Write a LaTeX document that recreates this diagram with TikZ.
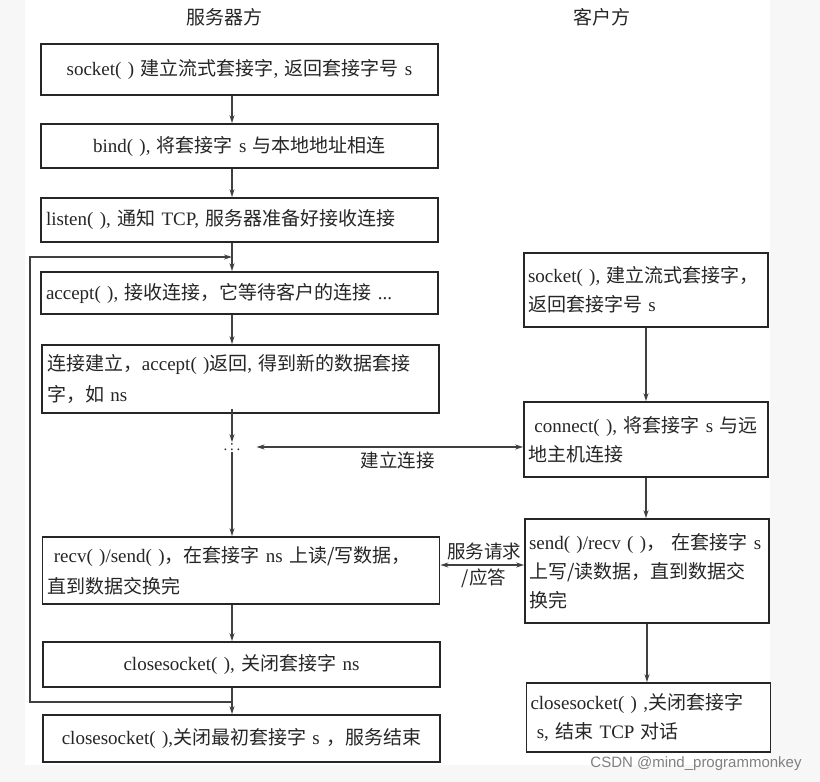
\documentclass[tikz,border=0pt]{standalone}
\usepackage{fontspec}
\setmainfont{Liberation Serif}
\newfontfamily\cjk{Noto Sans CJK SC}
\newfontfamily\wmfont{Liberation Sans}
\newcommand{\zh}[1]{{\cjk #1}}
\usetikzlibrary{arrows.meta}
\definecolor{ink}{HTML}{262626}
\definecolor{wire}{HTML}{404040}

\begin{document}
\begin{tikzpicture}[x=1pt,y=-1pt,
  srvbox/.style={draw=ink,line width=1.8pt,text=ink,inner xsep=5pt,inner ysep=0pt,
    text width=387pt,font=\fontsize{19}{31}\selectfont},
  clibox/.style={draw=ink,line width=1.8pt,text=ink,inner xsep=4pt,inner ysep=0pt,
    text width=236pt,align=left,font=\fontsize{19}{29}\selectfont},
  conn/.style={draw=wire,line width=1.3pt,-{Stealth[length=8pt,width=5pt]}},
  both/.style={draw=wire,line width=1.3pt,{Stealth[length=8pt,width=5pt]}-{Stealth[length=8pt,width=5pt]}},
  lbl/.style={text=ink,font=\fontsize{18.5}{26}\selectfont\cjk,align=center}]
\useasboundingbox (0,0) rectangle (820,782);
\fill[black!3] (0,0) rectangle (820,782);
\fill[white] (25,0) rectangle (770,765);

% titles
\node[lbl,font=\fontsize{19}{20}\selectfont\cjk] (tsrv) at (224,17) {服务器方};
\node[lbl,font=\fontsize{19}{20}\selectfont\cjk] (tcli) at (602,17) {客户方};

% server side
\node[srvbox,align=center,minimum height=51pt] (b1) at (239.5,69.5) {socket( ) \zh{建立流式套接字}, \zh{返回套接字号} s};
\node[srvbox,align=center,minimum height=44pt] (b2) at (239.5,146) {bind( ), \zh{将套接字} s \zh{与本地地址相连}};
\node[srvbox,align=left,minimum height=44pt] (b3) at (239.5,220) {listen( ), \zh{通知} TCP, \zh{服务器准备好接收连接}};
\node[srvbox,align=left,minimum height=42pt] (b4) at (239.5,293) {accept( ), \zh{接收连接，它等待客户的连接} ...};
\node[srvbox,align=left,minimum height=68pt] (b5) at (240.5,379) {\zh{连接建立，}accept( )\zh{返回}, \zh{得到新的数据套接}\\\zh{字，如} ns};
\node[srvbox,align=left,minimum height=67pt] (b6) at (241,570.5) {\ recv( )/send( )\zh{，在套接字} ns \zh{上读/写数据，}\\\zh{直到数据交换完}};
\node[srvbox,align=center,minimum height=45pt] (b7) at (241.5,664.5) {closesocket( ), \zh{关闭套接字} ns};
\node[srvbox,align=center,minimum height=47pt] (b8) at (241.5,738.5) {closesocket( ),\zh{关闭最初套接字} s \zh{，服务结束}};
\node[text=ink,font=\fontsize{15}{15}\selectfont,inner sep=1pt] (dots) at (232,447) {.\,:\,.};

% client side
\node[clibox,minimum height=74pt] (c1) at (646,290) {socket( ), \zh{建立流式套接字，}\\\zh{返回套接字号} s};
\node[clibox,minimum height=75pt] (c2) at (646,439.5) {\ connect( ), \zh{将套接字} s \zh{与远}\\\zh{地主机连接}};
\node[clibox,minimum height=104pt] (c3) at (647,571) {send( )/recv ( )\zh{，} \zh{在套接字} s\\\zh{上写/读数据，直到数据交}\\\zh{换完}};
\node[clibox,minimum height=69pt] (c4) at (648.5,717.5) {closesocket( ) ,\zh{关闭套接字}\\\ s, \zh{结束} TCP \zh{对话}};

% helper points
\coordinate (sx) at (232,0);
\coordinate (yreq) at (0,565);
\coordinate (lp) at (232,702);
\coordinate (lb) at (30,702);
\coordinate (lt) at (30,257);
\coordinate (la) at (232,257);

% server flow
\draw[conn] (b1.south -| sx) -- (b2.north -| sx);
\draw[conn] (b2.south -| sx) -- (b3.north -| sx);
\draw[conn] (b3.south -| sx) -- (b4.north -| sx);
\draw[conn] (b4.south -| sx) -- (b5.north -| sx);
\draw[conn] ([yshift=5pt]b5.south -| sx) -- (dots.north);
\draw[conn] (dots.south) -- (b6.north -| sx);
\draw[conn] (b6.south -| sx) -- (b7.north -| sx);
\draw[conn] (b7.south -| sx) -- (b8.north -| sx);
\draw[conn] (lp) -- (lb) -- (lt) -- (la);

% client flow
\draw[conn] (c1.south) -- (c2.north -| c1.south);
\draw[conn] (c2.south) -- (c3.north -| c2.south);
\draw[conn] (c3.south) -- (c4.north -| c3.south);

% between the two sides
\draw[both] ([xshift=15pt]dots.east) -- (c2.west |- dots.east) node[lbl,pos=0.53,below=1pt] {建立连接};
\draw[both] (b6.east |- yreq) -- (c3.west |- yreq);
\node[lbl] (req) at (484,565) {服务请求\\/应答};

% watermark
\node[text=black!50,font=\fontsize{15}{15}\selectfont\wmfont] (wm) at (696,764) {CSDN @mind\_programmonkey};
\end{tikzpicture}
\end{document}
